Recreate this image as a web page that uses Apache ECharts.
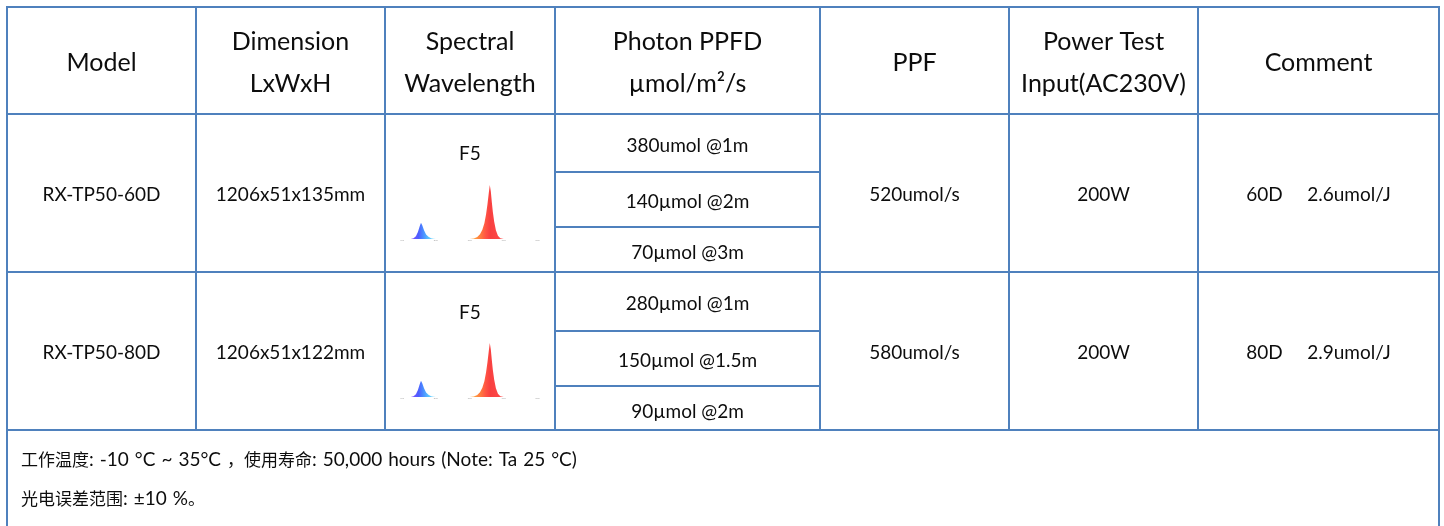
<!DOCTYPE html>
<html><head><meta charset="utf-8">
<script src="https://cdn.jsdelivr.net/npm/echarts@6/dist/echarts.min.js"></script>
<style>html,body{margin:0;padding:0;background:#fff}#c{width:1444px;height:526px}</style>
</head><body><div id="c"></div>
<script>
// ---- table content ----
const headers = ['Model', 'Dimension\nLxWxH', 'Spectral\nWavelength', 'Photon PPFD\nµmol/m²/s', 'PPF', 'Power Test\nInput(AC230V)', 'Comment'];
const models = ['RX-TP50-60D', 'RX-TP50-80D'];
const dimensions = ['1206x51x135mm', '1206x51x122mm'];
const spectralLabels = ['F5', 'F5'];
const ppfdValues = [
  ['380umol @1m', '140µmol @2m', '70µmol @3m'],
  ['280µmol @1m', '150µmol @1.5m', '90µmol @2m']
];
const ppfValues = ['520umol/s', '580umol/s'];
const powerValues = ['200W', '200W'];
const comments = ['60D     2.6umol/J', '80D     2.9umol/J'];
const footnotes = ['工作温度: -10 °C ~ 35°C ，使用寿命: 50,000 hours (Note: Ta 25 °C)', '光电误差范围: ±10 %。'];
// ---- spectrum thumbnail (wavelength nm, relative intensity) ----
const wavelengthTicks = ['400', '500', '600', '700', '800'];
const spectrumWavelength = [400, 426, 434, 441, 447, 452, 456, 460, 465, 471, 478, 486, 494, 500, 600, 612, 622, 630, 637, 643, 648, 652, 656, 659, 662, 665, 668, 672, 677, 683, 690, 700, 800];
const spectrumIntensity  = [0, 0, 0.012, 0.05, 0.13, 0.23, 0.30, 0.25, 0.16, 0.085, 0.04, 0.014, 0.003, 0, 0, 0.008, 0.035, 0.09, 0.17, 0.29, 0.46, 0.64, 0.85, 1.0, 0.88, 0.68, 0.5, 0.32, 0.16, 0.06, 0.015, 0, 0];

// ---- layout ----
const colX = [7, 196, 385, 555, 820, 1009, 1198, 1439];
const TOP = 7, HEAD_B = 114;
const rowY = [[114, 272], [272, 430]];
const subY = [[172, 227], [331, 386]];
const LINE = '#4f81bd';
const TXT = '#0d0d0d';
const LATIN = 'Lato, "Noto Sans CJK SC", sans-serif';
const CJK = '"Noto Sans CJK SC", sans-serif';

const els = [];
function ln(x1, y1, x2, y2) {
  els.push({type: 'line', silent: true, shape: {x1, y1, x2, y2}, style: {stroke: LINE, lineWidth: 2}});
}
function tx(x, y, text, size, extra) {
  els.push({type: 'text', silent: true, x, y, style: Object.assign({
    text, fontSize: size, fontFamily: LATIN, fill: TXT, align: 'center', verticalAlign: 'middle', lineHeight: 42
  }, extra || {})});
}
const cx = i => (colX[i] + colX[i + 1]) / 2;

// grid lines
ln(colX[0], TOP, colX[7], TOP);
ln(colX[0], HEAD_B, colX[7], HEAD_B);
ln(colX[0], rowY[0][1], colX[7], rowY[0][1]);
ln(colX[0], rowY[1][1], colX[7], rowY[1][1]);
ln(colX[0], TOP - 1, colX[0], 526);
ln(colX[7], TOP - 1, colX[7], 526);
for (let i = 1; i < 7; i++) ln(colX[i], TOP, colX[i], rowY[1][1]);
subY.forEach(r => r.forEach(y => ln(colX[3], y, colX[4], y)));

// header
headers.forEach((h, i) => tx(cx(i), 63, h, 25));

// rows
for (let r = 0; r < 2; r++) {
  const top = rowY[r][0];
  const mid = top + 81;
  tx(cx(0), mid, models[r], 19);
  tx(cx(1), mid, dimensions[r], 19);
  tx(cx(2), top + 39.5 + (r ? 1 : 0), spectralLabels[r], 19);
  const bounds = [top, subY[r][0], subY[r][1], rowY[r][1]];
  for (let k = 0; k < 3; k++) {
    tx(cx(3), (bounds[k] + bounds[k + 1]) / 2 + 2.5 + (k === 2 ? 1 : 0), ppfdValues[r][k], 19);
  }
  tx(cx(4), mid, ppfValues[r], 19);
  tx(cx(5), mid, powerValues[r], 19);
  tx(cx(6), mid, comments[r], 19);
}

// footnotes (mixed CJK / Latin runs; spaces are half-width CJK spaces)
const CJK_RE = /[\u3000-\u303f\u4e00-\u9fff\uff00-\uffef]/;
function toRich(s) {
  const out = [];
  let cur = '', kind = '';
  const flush = () => { if (cur) out.push('{' + kind + '|' + cur + '}'); cur = ''; };
  for (const ch of s) {
    const k = ch === ' ' ? 's' : (CJK_RE.test(ch) ? 'c' : 'l');
    if (k === 's') { flush(); kind = ''; out.push('{s| }'); continue; }
    if (k !== kind) { flush(); kind = k; }
    cur += ch;
  }
  flush();
  return out.join('');
}
const rich = {
  c: {fontFamily: CJK, fontSize: 17, fill: TXT, lineHeight: 24},
  l: {fontFamily: LATIN, fontSize: 19, fill: TXT, lineHeight: 24},
  s: {fontFamily: LATIN, fontSize: 19, fill: TXT, lineHeight: 24, width: 6}
};
tx(21, 460, toRich(footnotes[0]), 19, {align: 'left', rich, lineHeight: 24});
tx(21, 499, toRich(footnotes[1]), 19, {align: 'left', rich, lineHeight: 24});

// ---- spectrum charts ----
const specData = spectrumWavelength.map((w, k) => [w, spectrumIntensity[k]]);
function grad() {
  const o = w => (w - 400) / 400;
  return new echarts.graphic.LinearGradient(0, 0, 1, 0, [
    {offset: 0, color: '#7a4dff'},
    {offset: o(430), color: '#7b55ff'},
    {offset: o(448), color: '#4d5cff'},
    {offset: o(460), color: '#4a86ff'},
    {offset: o(478), color: '#58c2ff'},
    {offset: o(494), color: '#86dcff'},
    {offset: o(560), color: '#ffd060'},
    {offset: o(612), color: '#ffa040'},
    {offset: o(632), color: '#ff7a40'},
    {offset: o(648), color: '#ff5244'},
    {offset: o(660), color: '#f84040'},
    {offset: o(700), color: '#ff4c4c'},
    {offset: 1, color: '#ff4c4c'}
  ]);
}
const grids = [], xAxes = [], yAxes = [], series = [];
for (let r = 0; r < 2; r++) {
  const base = rowY[r][0] + 125;
  grids.push({left: 402, top: base - 54, width: 135.6, height: 54});
  xAxes.push({
    type: 'value', gridIndex: r, min: 400, max: 800, interval: 100,
    axisLine: {show: false}, axisTick: {show: false}, splitLine: {show: false},
    axisLabel: {fontSize: 2.5, color: '#9a9a9a', margin: 0,
      formatter: v => wavelengthTicks[Math.round((v - 400) / 100)] || ''}
  });
  yAxes.push({type: 'value', gridIndex: r, min: 0, max: 1, show: false});
  series.push({
    type: 'line', xAxisIndex: r, yAxisIndex: r, data: specData, symbol: 'none', silent: true,
    lineStyle: {opacity: 0, width: 0}, areaStyle: {color: grad(), opacity: 1}
  });
}

const chart = echarts.init(document.getElementById('c'), null, {renderer: 'canvas'});
chart.setOption({
  animation: false,
  backgroundColor: '#fff',
  grid: grids, xAxis: xAxes, yAxis: yAxes, series,
  graphic: {elements: els}
});
</script>
</body></html>
